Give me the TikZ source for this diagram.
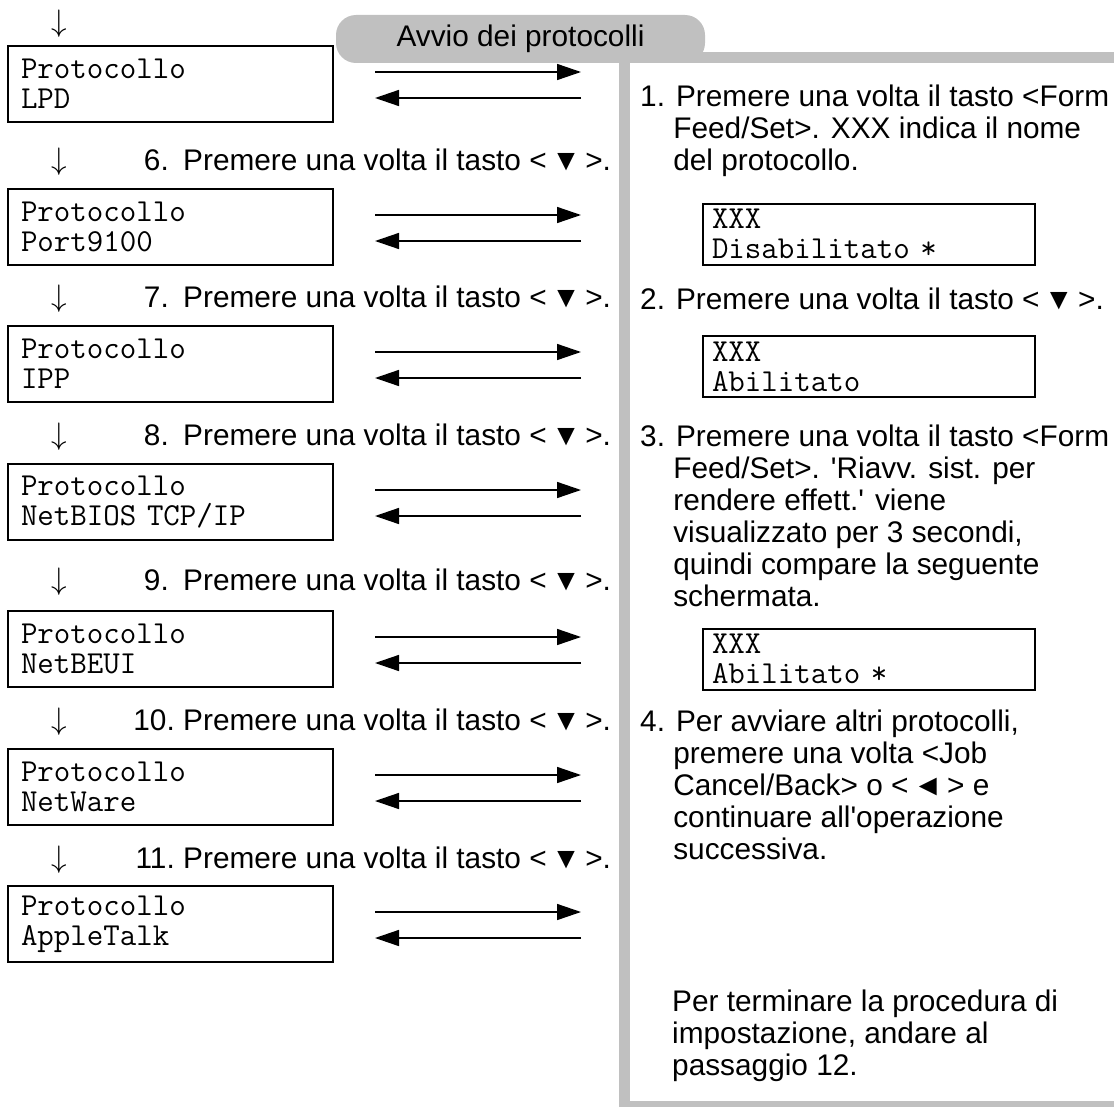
\documentclass[tikz,border=0pt]{standalone}
\usepackage{graphicx}
\usepackage{fontspec}
\setmainfont{Liberation Sans}
\usetikzlibrary{arrows.meta,positioning}

\definecolor{framegray}{RGB}{192,192,192}

\newcommand\bodyfont{\fontsize{29.8}{32}\selectfont}
\newcommand\lcdfont{\fontsize{32}{30}\ttfamily}
\newcommand\indt{\phantom{1.\ }}
\newcommand\sq{\textquotesingle}
\newcommand\tridown{\makebox[22pt]{▼}}
\newcommand\trileft{\makebox[22pt]{◄}}
\newcommand\darr{\scalebox{1.25}{$\downarrow$}}

\tikzset{
  lcd/.style={draw, line width=2pt, minimum width=325pt, minimum height=76pt,
    text width=299pt, inner xsep=13pt, inner ysep=0pt, align=left, font=\lcdfont},
  lcdsmall/.style={lcd, minimum width=332pt, text width=314pt, inner xsep=9pt, minimum height=61pt},
  tabhead/.style={fill=framegray, rounded corners=20pt, minimum width=369pt, minimum height=48pt,
    inner sep=0pt, font=\bodyfont},
  stepnum/.style={anchor=base east, inner sep=0pt, font=\bodyfont},
  steptext/.style={anchor=base west, inner sep=0pt, font=\bodyfont},
  downarr/.style={inner sep=0pt, font=\fontsize{24.88}{26}\selectfont},
  item/.style={anchor=north west, align=left, inner sep=0pt, font=\bodyfont},
  link/.style={line width=1.5pt, -{Triangle[length=24pt,width=16pt]}},
}

\begin{document}
\begin{tikzpicture}[x=1pt,y=-1pt]
  \useasboundingbox (0,0) rectangle (1114,1108);

  % grey frame of the right panel
  \fill[framegray] (680,52) rectangle (1114,63); % top bar
  \fill[framegray] (619,55) rectangle (630,1107); % left bar
  \fill[framegray] (619,1101) rectangle (1114,1107); % bottom bar
  \node[tabhead] (tab) at (520.5,39) {Avvio dei protocolli};

  % left column: display boxes
  \node[lcd] (lcd1) at (170.5,84) {Protocollo\\LPD};
  \node[lcd] (lcd2) at (170.5,227) {Protocollo\\Port9100};
  \node[lcd] (lcd3) at (170.5,364) {Protocollo\\IPP};
  \node[lcd] (lcd4) at (170.5,502) {Protocollo\\NetBIOS TCP/IP};
  \node[lcd] (lcd5) at (170.5,649) {Protocollo\\NetBEUI};
  \node[lcd] (lcd6) at (170.5,787) {Protocollo\\NetWare};
  \node[lcd] (lcd7) at (170.5,924) {Protocollo\\AppleTalk};

  % down arrows and steps
  \node[downarr] (d5) at (59,24) {\darr};
  \node[downarr] (d6) at (59,162) {\darr};
  \node[downarr] (d7) at (59,299) {\darr};
  \node[downarr] (d8) at (59,437) {\darr};
  \node[downarr] (d9) at (59,582) {\darr};
  \node[downarr] (d10) at (59,722) {\darr};
  \node[downarr] (d11) at (59,860) {\darr};

  \node[stepnum] (n6) at (169,170.5) {6.};
  \node[steptext] (s6) at (183,170.5) {Premere una volta il tasto < \tridown{} >.};
  \node[stepnum] (n7) at (169,307.5) {7.};
  \node[steptext] (s7) at (183,307.5) {Premere una volta il tasto < \tridown{} >.};
  \node[stepnum] (n8) at (169,445.5) {8.};
  \node[steptext] (s8) at (183,445.5) {Premere una volta il tasto < \tridown{} >.};
  \node[stepnum] (n9) at (169,590.5) {9.};
  \node[steptext] (s9) at (183,590.5) {Premere una volta il tasto < \tridown{} >.};
  \node[stepnum] (n10) at (175,730.5) {10.};
  \node[steptext] (s10) at (183,730.5) {Premere una volta il tasto < \tridown{} >.};
  \node[stepnum] (n11) at (175,868.5) {11.};
  \node[steptext] (s11) at (183,868.5) {Premere una volta il tasto < \tridown{} >.};

  % arrows between the boxes and the panel
  \draw[link] ([xshift=41pt,yshift=12pt]lcd1.east) -- ++(206pt,0);
  \draw[link] ([xshift=247pt,yshift=-14pt]lcd1.east) -- ++(-206pt,0);
  \draw[link] ([xshift=41pt,yshift=12pt]lcd2.east) -- ++(206pt,0);
  \draw[link] ([xshift=247pt,yshift=-14pt]lcd2.east) -- ++(-206pt,0);
  \draw[link] ([xshift=41pt,yshift=12pt]lcd3.east) -- ++(206pt,0);
  \draw[link] ([xshift=247pt,yshift=-14pt]lcd3.east) -- ++(-206pt,0);
  \draw[link] ([xshift=41pt,yshift=12pt]lcd4.east) -- ++(206pt,0);
  \draw[link] ([xshift=247pt,yshift=-14pt]lcd4.east) -- ++(-206pt,0);
  \draw[link] ([xshift=41pt,yshift=12pt]lcd5.east) -- ++(206pt,0);
  \draw[link] ([xshift=247pt,yshift=-14pt]lcd5.east) -- ++(-206pt,0);
  \draw[link] ([xshift=41pt,yshift=12pt]lcd6.east) -- ++(206pt,0);
  \draw[link] ([xshift=247pt,yshift=-14pt]lcd6.east) -- ++(-206pt,0);
  \draw[link] ([xshift=41pt,yshift=12pt]lcd7.east) -- ++(206pt,0);
  \draw[link] ([xshift=247pt,yshift=-14pt]lcd7.east) -- ++(-206pt,0);

  % right panel
  \node[item] (t1) at (640,84.5) {1. Premere una volta il tasto <Form\\
    \indt Feed/Set>. XXX indica il nome\\
    \indt del protocollo.};
  \node[lcdsmall] (r1) at (869,234) {XXX\\Disabilitato *};
  \node[item] (t2) at (640,287.5) {2. Premere una volta il tasto < \tridown{} >.};
  \node[lcdsmall] (r2) at (869,366.5) {XXX\\Abilitato};
  \node[item] (t3) at (640,424.5) {3. Premere una volta il tasto <Form\\
    \indt Feed/Set>. \sq Riavv. sist. per\\
    \indt rendere effett.\sq{} viene\\
    \indt visualizzato per 3 secondi,\\
    \indt quindi compare la seguente\\
    \indt schermata.};
  \node[lcdsmall] (r3) at (869,659) {XXX\\Abilitato *};
  \node[item] (t4) at (640,709.5) {4. Per avviare altri protocolli,\\
    \indt premere una volta <Job\\
    \indt Cancel/Back> o < \trileft{} > e\\
    \indt continuare all\sq operazione\\
    \indt successiva.};
  \node[item] (t5) at (672,989.5) {Per terminare la procedura di\\
    impostazione, andare al\\
    passaggio 12.};
\end{tikzpicture}
\end{document}
